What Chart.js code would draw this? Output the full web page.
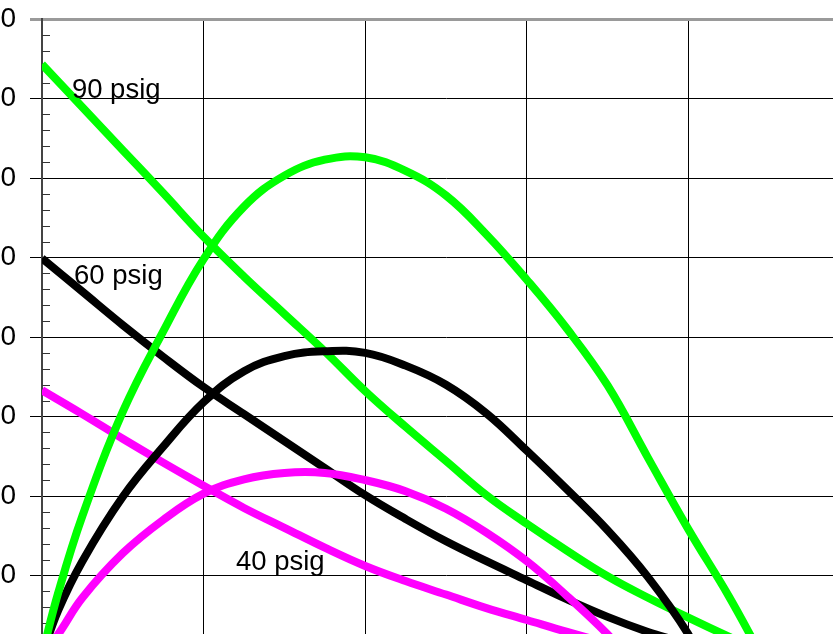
<!DOCTYPE html>
<html>
<head>
<meta charset="utf-8">
<script src="https://cdn.jsdelivr.net/npm/chart.js@4/dist/chart.umd.min.js"></script>
<style>
  html, body { margin: 0; padding: 0; background: #fff; overflow: hidden; width: 833px; height: 634px; }
  #wrap { position: absolute; left: -40px; top: 0; width: 910px; height: 700px; }
</style>
</head>
<body>
<div id="wrap"><canvas id="c" width="910" height="700"></canvas></div>
<script>
// ---- data ----
const yTicks = [0, 10, 20, 30, 40, 50, 60, 70, 80];
const xTicks = [0, 10, 20, 30, 40, 50];

// 90 psig
const x90Power = [0, 1, 2.5, 5, 7.5, 10, 12.5, 15, 17.5, 20, 22.5, 25, 27.5, 30, 32.5, 35, 37.5, 40, 42.5, 44.5];
const y90Power = [0, 7.8, 17.5, 30.6, 40.7, 49.8, 56.4, 60.3, 62.3, 62.6, 60.9, 57.8, 52.9, 47.2, 41.0, 33.9, 24.8, 15.8, 7.4, 0];
const x90Torque = [0, 2.5, 5, 7.5, 10, 12.5, 15, 17.5, 20, 22.5, 25, 27.5, 30, 32.5, 35, 37.5, 40, 42.5, 45];
const y90Torque = [74.3, 68.9, 63.5, 58.1, 52.6, 47.6, 42.9, 38.2, 33.2, 28.7, 24.4, 20.1, 16.5, 13.1, 9.9, 7.2, 4.7, 2.3, 0];

// 60 psig
const x60Power = [0, 1, 2.5, 5, 7.5, 10, 12.5, 15, 17.5, 20, 22.5, 25, 27.5, 30, 32.5, 35, 37.5, 40, 40.5];
const y60Power = [0, 5.6, 11.8, 19.9, 26.2, 31.8, 35.7, 37.6, 38.2, 38.0, 36.4, 34.0, 30.4, 25.7, 20.8, 15.7, 9.8, 2.6, 0];
const x60Torque = [0, 2.5, 5, 7.5, 10, 12.5, 15, 17.5, 20, 22.5, 25, 27.5, 30, 32.5, 35, 37.5, 40, 41.3];
const y60Torque = [49.9, 45.7, 41.5, 37.5, 33.7, 30.3, 26.9, 23.5, 20.1, 17.1, 14.3, 11.8, 9.4, 7.0, 4.8, 2.9, 1.3, 0];

// 40 psig
const x40Power = [0, 1, 2.5, 5, 7.5, 10, 12.5, 15, 17.5, 20, 22.5, 25, 27.5, 30, 32.5, 35, 36.1];
const y40Power = [0, 2.6, 7.2, 12.8, 17.0, 20.3, 22.1, 22.9, 22.9, 22.0, 20.6, 18.4, 15.4, 11.8, 7.4, 2.6, 0];
const x40Torque = [0, 2.5, 5, 7.5, 10, 12.5, 15, 17.5, 20, 22.5, 25, 27.5, 30, 32.5, 35, 37.5, 38];
const y40Torque = [33.3, 30.3, 27.2, 24.2, 21.3, 18.5, 16.0, 13.5, 11.2, 9.3, 7.6, 5.9, 4.4, 2.9, 1.5, 0.3, 0];

// curve labels (data coordinates of text start / baseline)
const labelTexts = ['90 psig', '60 psig', '40 psig'];
const labelX = [1.85, 1.98, 12.0];
const labelY = [70.1, 46.7, 10.7];

// ---- build ----
function pts(xs, ys) { return xs.map((x, i) => ({ x: x, y: ys[i] })); }
function ds(xs, ys, color) {
  return {
    data: pts(xs, ys),
    borderColor: color,
    backgroundColor: color,
    borderWidth: 8,
    pointRadius: 0,
    fill: false,
    tension: 0.4,
    borderCapStyle: 'butt'
  };
}

const FONT = '"Liberation Sans", Arial, sans-serif';

const minorTicks = {
  id: 'minorTicks',
  beforeDatasetsDraw(chart) {
    const y = chart.scales.y, area = chart.chartArea, ctx = chart.ctx;
    ctx.save();
    ctx.strokeStyle = '#333';
    ctx.lineWidth = 1;
    for (let v = yTicks[0]; v <= yTicks[yTicks.length - 1]; v += 2) {
      if (v % 10 === 0) continue;
      const py = Math.round(y.getPixelForValue(v)) + 0.5;
      ctx.beginPath();
      ctx.moveTo(area.left, py);
      ctx.lineTo(area.left + 8, py);
      ctx.stroke();
    }
    ctx.restore();
  }
};

const curveLabels = {
  id: 'curveLabels',
  afterDatasetsDraw(chart) {
    const xs = chart.scales.x, ys = chart.scales.y, ctx = chart.ctx;
    ctx.save();
    ctx.font = '27.5px ' + FONT;
    ctx.fillStyle = '#000';
    ctx.textAlign = 'left';
    ctx.textBaseline = 'alphabetic';
    labelTexts.forEach((t, i) => {
      ctx.fillText(t, xs.getPixelForValue(labelX[i]), ys.getPixelForValue(labelY[i]));
    });
    ctx.restore();
  }
};

new Chart(document.getElementById('c'), {
  type: 'line',
  data: {
    datasets: [
      ds(x90Power, y90Power, '#00ff00'),
      ds(x60Power, y60Power, '#000000'),
      ds(x40Power, y40Power, '#ff00ff'),
      ds(x90Torque, y90Torque, '#00ff00'),
      ds(x60Torque, y60Torque, '#000000'),
      ds(x40Torque, y40Torque, '#ff00ff')
    ]
  },
  options: {
    responsive: false,
    animation: false,
    devicePixelRatio: 1,
    layout: { padding: { top: 19, right: 20, bottom: 0, left: 0 } },
    plugins: { legend: { display: false }, tooltip: { enabled: false } },
    scales: {
      x: {
        type: 'linear',
        min: xTicks[0],
        max: xTicks[xTicks.length - 1],
        afterBuildTicks: s => { s.ticks = xTicks.map(v => ({ value: v })); },
        afterFit: s => { s.height = 45; s.paddingLeft = 0; s.paddingRight = 0; },
        ticks: { display: false },
        grid: { color: '#000', lineWidth: 1, drawTicks: false },
        border: { display: false }
      },
      y: {
        type: 'linear',
        min: yTicks[0],
        max: yTicks[yTicks.length - 1],
        afterBuildTicks: s => { s.ticks = yTicks.map(v => ({ value: v })); },
        afterFit: s => { s.width = 82; s.paddingTop = 0; s.paddingBottom = 0; },
        ticks: {
          font: { family: FONT, size: 28 },
          color: '#000',
          padding: 14
        },
        grid: {
          color: c => (c.tick && c.tick.value === yTicks[yTicks.length - 1]) ? '#9a9a9a' : '#000',
          lineWidth: c => (c.tick && c.tick.value === yTicks[yTicks.length - 1]) ? 3 : 1,
          tickLength: 12
        },
        border: { display: true, color: '#444', width: 2 }
      }
    }
  },
  plugins: [minorTicks, curveLabels]
});
</script>
</body>
</html>
